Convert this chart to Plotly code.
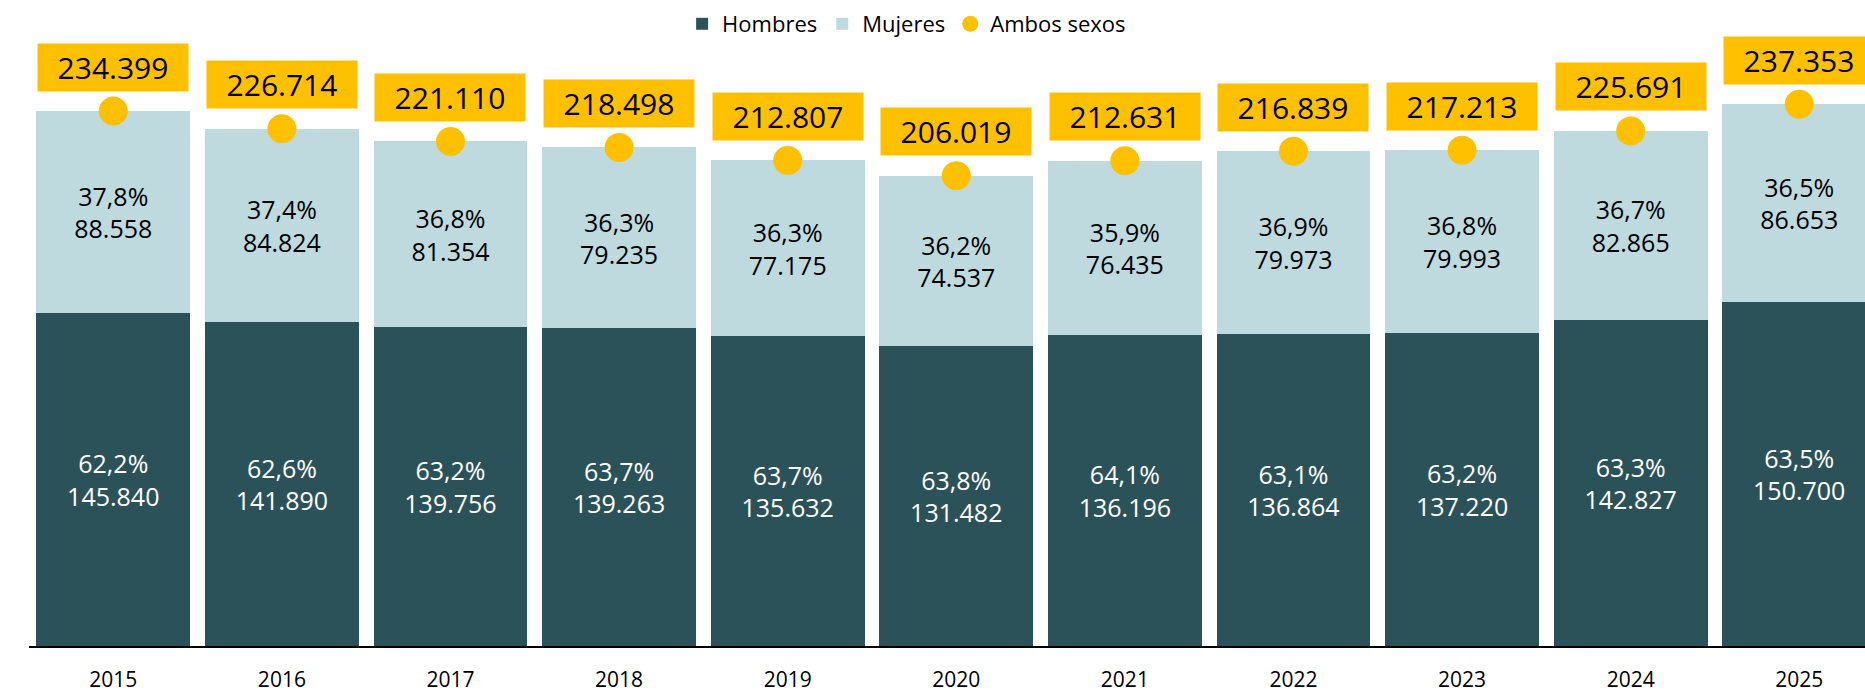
import plotly.graph_objects as go

years = ["2015", "2016", "2017", "2018", "2019", "2020", "2021", "2022", "2023", "2024", "2025"]
hombres = [145840, 141890, 139756, 139263, 135632, 131482, 136196, 136864, 137220, 142827, 150700]
hombres_pct = [62.2, 62.6, 63.2, 63.7, 63.7, 63.8, 64.1, 63.1, 63.2, 63.3, 63.5]
mujeres = [88558, 84824, 81354, 79235, 77175, 74537, 76435, 79973, 79993, 82865, 86653]
mujeres_pct = [37.8, 37.4, 36.8, 36.3, 36.3, 36.2, 35.9, 36.9, 36.8, 36.7, 36.5]
ambos = [234399, 226714, 221110, 218498, 212807, 206019, 212631, 216839, 217213, 225691, 237353]

dark = "#2C5259"
light = "#BEDADF"
gold = "#FFC000"
font = "Open Sans"

fig = go.Figure()

fig.add_trace(go.Bar(
    x=years, y=hombres, name="Hombres", marker=dict(color=dark, line=dict(width=0)),
    customdata=hombres_pct,
    texttemplate="%{customdata:.1f}%<br>%{y:,}",
    textposition="inside", insidetextanchor="middle", textangle=0,
    constraintext="none",
    insidetextfont=dict(color="white", size=25, family=font),
))
fig.add_trace(go.Bar(
    x=years, y=mujeres, name="Mujeres", marker=dict(color=light, line=dict(width=0)),
    customdata=mujeres_pct,
    texttemplate="%{customdata:.1f}%<br>%{y:,}",
    textposition="inside", insidetextanchor="middle", textangle=0,
    constraintext="none",
    insidetextfont=dict(color="black", size=25, family=font),
))
fig.add_trace(go.Scatter(
    x=years, y=ambos, name="Ambos sexos", mode="markers",
    marker=dict(color=gold, size=29), cliponaxis=False,
))

# yellow total labels (category index as x)
for i, tot in enumerate(ambos):
    fig.add_annotation(
        x=i, y=tot, xref="x", yref="y", text=f"{tot:,}".replace(",", "."), showarrow=False,
        yshift=44, bgcolor=gold, width=148, height=45,
        font=dict(size=30, color="black", family=font),
    )

fig.update_layout(
    width=1865, height=695,
    margin=dict(l=29, r=0, t=40, b=49, autoexpand=False),
    barmode="stack", bargap=0.087,
    separators=",.",
    plot_bgcolor="white", paper_bgcolor="white",
    font=dict(family=font, color="black"),
    showlegend=True,
    legend=dict(orientation="h", x=0.478, xanchor="center", y=1 - 24 / 695, yanchor="middle",
                yref="container", traceorder="normal",
                font=dict(size=22), itemsizing="trace"),
    xaxis=dict(type="category", range=[-0.5, 10.39], showline=True, linecolor="black", linewidth=2,
               ticks="outside", ticklen=14, tickcolor="rgba(0,0,0,0)",
               tickfont=dict(size=21), showgrid=False, automargin=False),
    yaxis=dict(range=[0, 265560], visible=False, showgrid=False),
)

fig.write_html("out.html", config={"displayModeBar": False},
               post_script="document.body.style.margin='0';")
